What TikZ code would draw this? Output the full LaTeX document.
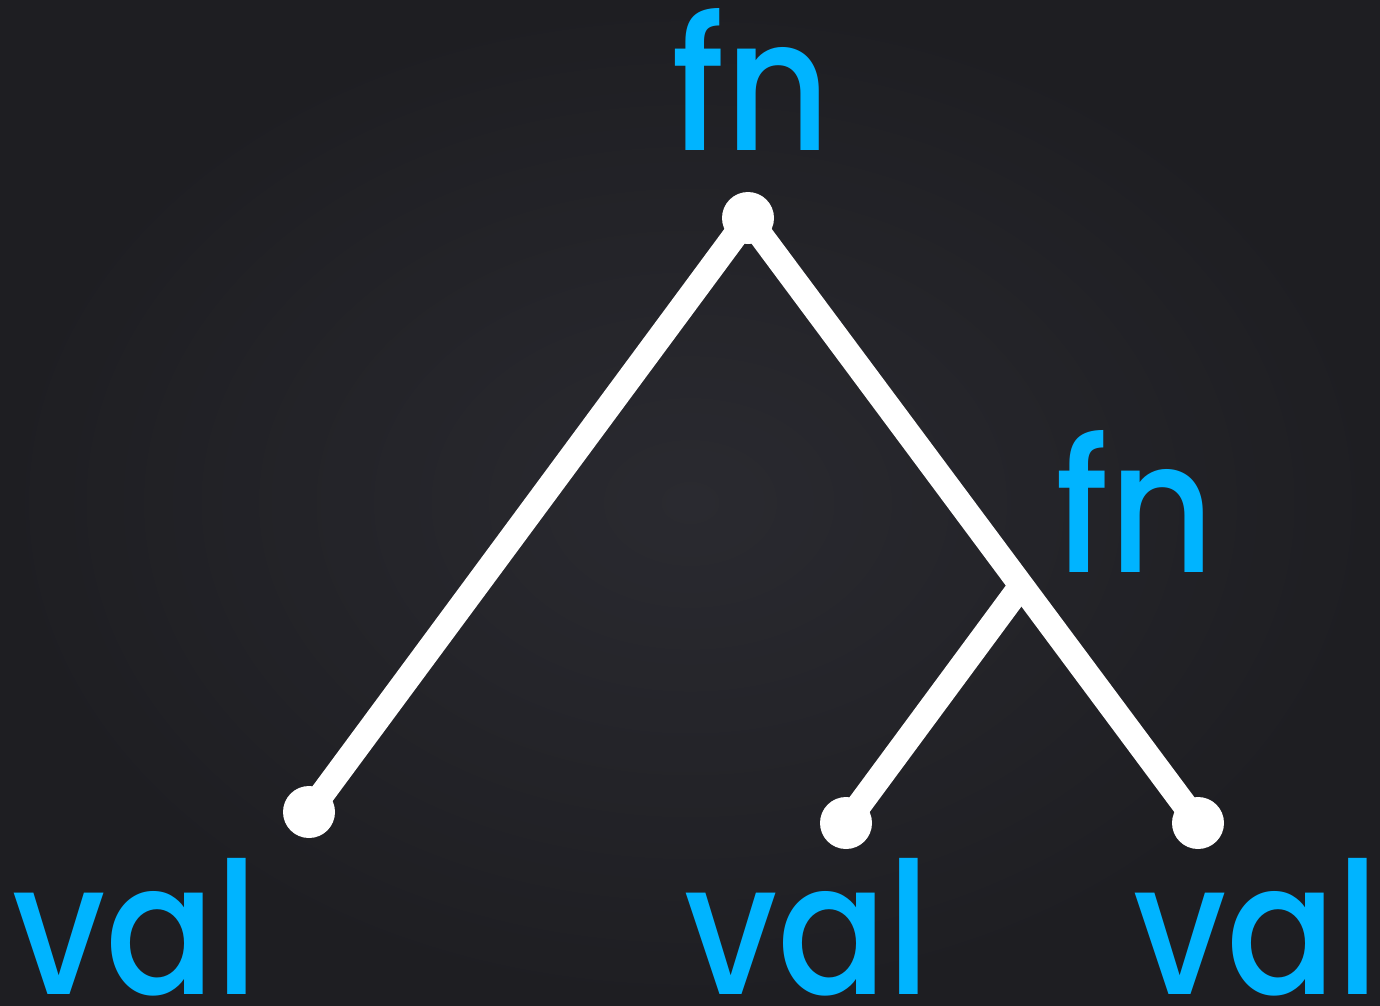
\documentclass[tikz,border=0pt]{standalone}
\usepackage{fontspec}
\setmainfont{Poppins Medium}[FakeStretch=0.88]
\definecolor{bgdark}{HTML}{1E1E22}
\definecolor{bgmid}{HTML}{2A2A30}
\definecolor{labelblue}{HTML}{00B4FF}
\tikzset{
  dot/.style={circle, fill=white, minimum size=52pt, inner sep=0pt},
  branch/.style={white, line width=25pt},
  lbl/.style={text=labelblue, anchor=base, inner sep=0pt, font=\fontsize{184}{184}\selectfont},
}
\begin{document}
\begin{tikzpicture}[x=1pt, y=-1pt]
  % backdrop with a soft vignette
  \useasboundingbox (0,0) rectangle (1380,1005);
  \shade[inner color=bgmid, outer color=bgdark] (0,0) rectangle (1380,1005);

  % tree vertices
  \coordinate (rootc) at (748,218);
  \coordinate (leftc) at (309,812);
  \coordinate (midc) at (846,823);
  \coordinate (rightc) at (1198,823);
  \coordinate (fork) at (1021,586);

  % edges
  \draw[branch] (rootc) -- (leftc);
  \draw[branch] (rootc) -- (rightc);
  \draw[branch] (midc) -- (fork);

  % vertex dots
  \node[dot] (root) at (rootc) {};
  \node[dot] (left) at (leftc) {};
  \node[dot] (mid) at (midc) {};
  \node[dot] (right) at (rightc) {};

  % labels
  \node[lbl] (fntop) at (751,150) {fn};
  \node[lbl] (fninner) at (1135,572) {fn};
  \node[lbl] (valleft) at (135,994) {val};
  \node[lbl] (valmid) at (807,994) {val};
  \node[lbl] (valright) at (1256,994) {val};
\end{tikzpicture}
\end{document}
